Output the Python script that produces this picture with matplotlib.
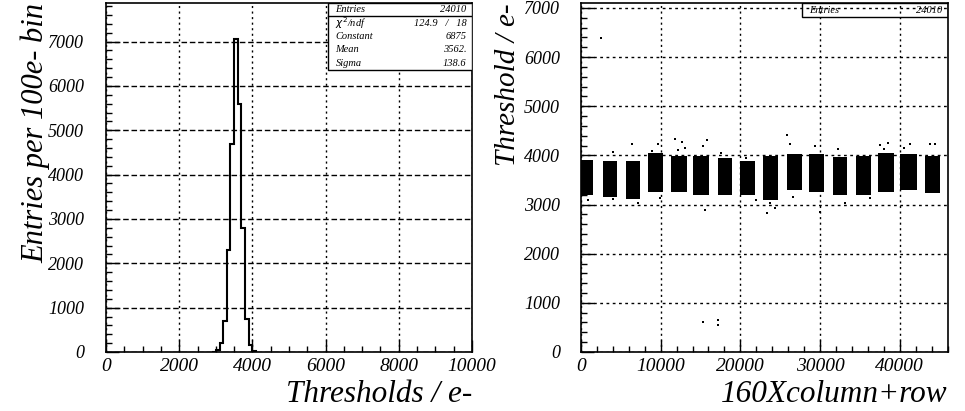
import numpy as np
import matplotlib
matplotlib.use('Agg')
import matplotlib.pyplot as plt
from matplotlib.ticker import MultipleLocator

# left panel: threshold histogram, 100 e- bins
bin_edges = [2900, 3000, 3100, 3200, 3300, 3400, 3500, 3600, 3700, 3800, 3900, 4000, 4100]
bin_counts = [10, 50, 200, 700, 2300, 4700, 7050, 5600, 2800, 750, 150, 20]
stats_names = ['Entries', r'$\chi^2$/ndf', 'Constant', 'Mean', 'Sigma']
stats_values = ['24010', '124.9   /   18', '6875', '3562.', '138.6']

# right panel: dense clusters (x start, x end, y low, y high) per chip block
blk_x0 = [0, 2760, 5640, 8400, 11280, 14040, 17170, 19920,
          22800, 25810, 28570, 31580, 34460, 37220, 39970, 43110]
blk_x1 = [1500, 4510, 7390, 10280, 13280, 16040, 18920, 21800,
          24690, 27690, 30450, 33330, 36340, 39220, 42110, 44990]
blk_lo = [3190, 3150, 3120, 3250, 3250, 3200, 3190, 3190,
          3100, 3290, 3250, 3190, 3190, 3250, 3290, 3230]
blk_hi = [3900, 3880, 3880, 4040, 3980, 3980, 3950, 3880,
          3980, 4020, 4020, 3960, 3990, 4040, 4020, 3990]
# stray pixels outside the clusters
odd_x = [2500, 15290, 17170, 17170, 6390, 11780, 12660, 15790, 15290, 12160,
         9650, 4010, 17540, 20680, 15540, 9900, 4010, 7140, 880, 25810,
         26190, 29320, 32200, 37470, 38470, 41230, 43730, 44360, 23310, 24310,
         23680, 29950, 33080, 36220, 26570, 13000, 38000, 40500, 8900, 22000]
odd_y = [6380, 606, 550, 660, 4240, 4340, 4280, 4320, 4200, 4100,
         4240, 4060, 4040, 3940, 2890, 3130, 3110, 3030, 3090, 4420,
         4240, 4200, 4140, 4220, 4260, 4240, 4240, 4240, 2830, 2930,
         3030, 2850, 3030, 3130, 3150, 4150, 4120, 4150, 4080, 3100]

ROOT_FONT = 'Liberation Serif'

fig = plt.figure(figsize=(9.65, 4.11), dpi=100)
ax1 = fig.add_axes([0.110, 0.1436, 0.379, 0.849])
ax2 = fig.add_axes([0.602, 0.1436, 0.380, 0.849])


def root_style(ax, xmaj, xmin, ymaj, ymin, ypad, hdash):
    ax.xaxis.set_major_locator(MultipleLocator(xmaj))
    ax.xaxis.set_minor_locator(MultipleLocator(xmin))
    ax.yaxis.set_major_locator(MultipleLocator(ymaj))
    ax.yaxis.set_minor_locator(MultipleLocator(ymin))
    ax.tick_params(which='both', direction='in', top=False, right=False, width=1)
    ax.tick_params(which='major', length=9)
    ax.tick_params(which='minor', length=4.5)
    ax.tick_params(axis='x', pad=4)
    ax.tick_params(axis='y', pad=ypad)
    for lab in ax.get_xticklabels():
        lab.set_fontfamily(ROOT_FONT)
        lab.set_fontstyle('italic')
        lab.set_fontsize(14)
    for lab in ax.get_yticklabels():
        lab.set_fontfamily(ROOT_FONT)
        lab.set_fontstyle('italic')
        lab.set_fontsize(13)
    ax.xaxis.grid(True, color='black', lw=1, ls=(0, (1.5, 2.5)))
    ax.yaxis.grid(True, color='black', lw=1, ls=(0, hdash))
    ax.set_axisbelow(True)
    for sp in ax.spines.values():
        sp.set_linewidth(1.2)


# ---- left: histogram
ax1.stairs(bin_counts, bin_edges, color='black', lw=1.5, zorder=3)
ax1.set_xlim(0, 10000)
ax1.set_ylim(0, 7870)
root_style(ax1, 2000, 500, 1000, 200, 16, (4, 2))
ax1.set_xlabel('Thresholds / e-', fontfamily=ROOT_FONT, fontstyle='italic',
               fontsize=22.5, loc='right', labelpad=4)
ax1.set_ylabel('Entries per 100e- bin', fontfamily=ROOT_FONT, fontstyle='italic',
               fontsize=22, loc='top', labelpad=-2)

# stats box
bx0, by0 = 0.607, 0.808
ax1.add_patch(plt.Rectangle((bx0, by0), 1 - bx0, 1 - by0, transform=ax1.transAxes,
                            facecolor='white', edgecolor='black', lw=1, zorder=5))
row_h = (1 - by0) / len(stats_names)
ax1.plot([bx0, 1], [1 - row_h, 1 - row_h], transform=ax1.transAxes,
         color='black', lw=1, zorder=6)
for i, (nm, val) in enumerate(zip(stats_names, stats_values)):
    yc = 1 - (i + 0.5) * row_h
    ax1.text(bx0 + 0.02, yc, nm, transform=ax1.transAxes, ha='left', va='center',
             fontsize=7.5, fontfamily=ROOT_FONT, fontstyle='italic', zorder=7)
    ax1.text(0.985, yc, val, transform=ax1.transAxes, ha='right', va='center',
             fontsize=7.5, fontfamily=ROOT_FONT, fontstyle='italic', zorder=7)

# ---- right: threshold map
ax2.bar(blk_x0, np.array(blk_hi) - np.array(blk_lo),
        width=np.array(blk_x1) - np.array(blk_x0), bottom=blk_lo,
        align='edge', color='black', lw=0, zorder=3)
ax2.plot(odd_x, odd_y, 's', color='black', ms=2, mew=0, zorder=3)
ax2.set_xlim(0, 46000)
ax2.set_ylim(0, 7100)
root_style(ax2, 10000, 2000, 1000, 200, 15, (2, 2.5))
ax2.set_xlabel('160Xcolumn+row', fontfamily=ROOT_FONT, fontstyle='italic',
               fontsize=22.5, loc='right', labelpad=4)
ax2.set_ylabel('Threshold / e-', fontfamily=ROOT_FONT, fontstyle='italic',
               fontsize=21, loc='top', labelpad=2)

sx0, sy0 = 0.602, 0.96
ax2.add_patch(plt.Rectangle((sx0, sy0), 1 - sx0, 1 - sy0, transform=ax2.transAxes,
                            facecolor='none', edgecolor='black', lw=1, zorder=5))
ax2.text(sx0 + 0.02, (1 + sy0) / 2, 'Entries', transform=ax2.transAxes,
         ha='left', va='center', fontsize=7.5, fontfamily=ROOT_FONT,
         fontstyle='italic', zorder=7)
ax2.text(0.985, (1 + sy0) / 2, '24010', transform=ax2.transAxes,
         ha='right', va='center', fontsize=7.5, fontfamily=ROOT_FONT,
         fontstyle='italic', zorder=7)

fig.savefig('out.png', dpi=100)
